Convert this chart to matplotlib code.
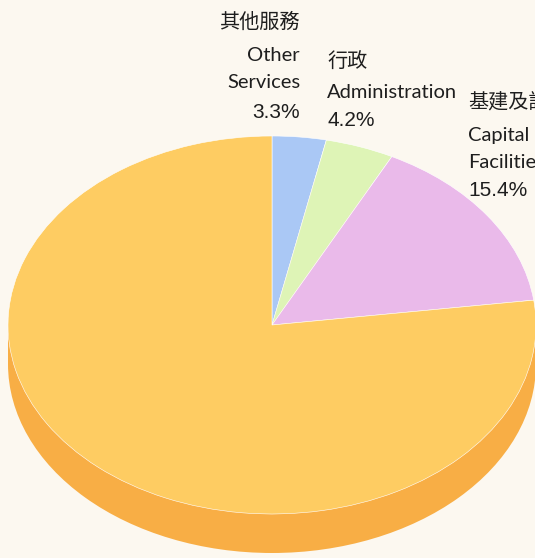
import matplotlib.pyplot as plt
from matplotlib.patches import Circle, Rectangle

# slice data, clockwise from 12 o'clock
names_zh = ['其他服務', '行政', '基建及設施', '']
names_en = ['Other\nServices', 'Administration', 'Capital\nFacilities', '']
shares = [3.3, 4.2, 15.4, 77.1]
colours = ['#AAC8F5', '#DEF4B6', '#EABAEA', '#FECC62']
side_colour = '#F8AE45'
bg = '#FCF8F0'

W, H = 535, 558


def main():
    fig = plt.figure(figsize=(W / 100, H / 100), dpi=100, facecolor=bg)
    ax = fig.add_axes([0, 0, 1, 1])
    ax.set_facecolor(bg)

    # pie centre and radii in pixels; the squash comes from the axis limits
    cx, cy = 272, 325
    rx, ry = 264, 189
    depth = 39 / ry

    # side of the "3D" pie
    ax.add_patch(Circle((0, -depth), 1, color=side_colour, lw=0, zorder=1))
    ax.add_patch(Rectangle((-1, -depth), 2, depth, color=side_colour, lw=0, zorder=1))

    wedges, _ = ax.pie(shares, colors=colours, startangle=90, counterclock=False,
                       radius=1, center=(0, 0), frame=True,
                       wedgeprops=dict(edgecolor='#FFFFFF', linewidth=0.4))
    for w in wedges:
        w.set_zorder(2)

    # pie() forces an equal aspect; undo it so the circle becomes an ellipse
    ax.set_aspect('auto')
    ax.set_xlim(-cx / rx, (W - cx) / rx)
    ax.set_ylim(-(H - cy) / ry, cy / ry)
    ax.axis('off')

    zh = ['Noto Sans CJK TC', 'DejaVu Sans']
    en = ['Lato', 'DejaVu Sans']
    num = ['Liberation Sans', 'DejaVu Sans']
    col = '#1E1E1E'

    def put(x, y, s, fam, size, ha):
        fig.text(x / W, 1 - y / H, s, family=fam, fontsize=size, ha=ha,
                 va='center', color=col, linespacing=1.7)

    # Other Services
    put(300, 22, names_zh[0], zh, 14.5, 'right')
    put(300, 69, names_en[0], en, 14.5, 'right')
    put(300, 113, f'{shares[0]}%', num, 15, 'right')
    # Administration
    put(327, 62, names_zh[1], zh, 14.5, 'left')
    put(327, 92, names_en[1], en, 14.5, 'left')
    put(327, 120, f'{shares[1]}%', num, 15, 'left')
    # Capital Facilities (cut by the right edge, as in the source)
    put(468, 102, names_zh[2], zh, 14.5, 'left')
    put(468, 149, names_en[2], en, 14.5, 'left')
    put(468, 190, f'{shares[2]}%', num, 15, 'left')

    fig.savefig('out.png', dpi=100, facecolor=bg)


if __name__ == "__main__":
    main()
